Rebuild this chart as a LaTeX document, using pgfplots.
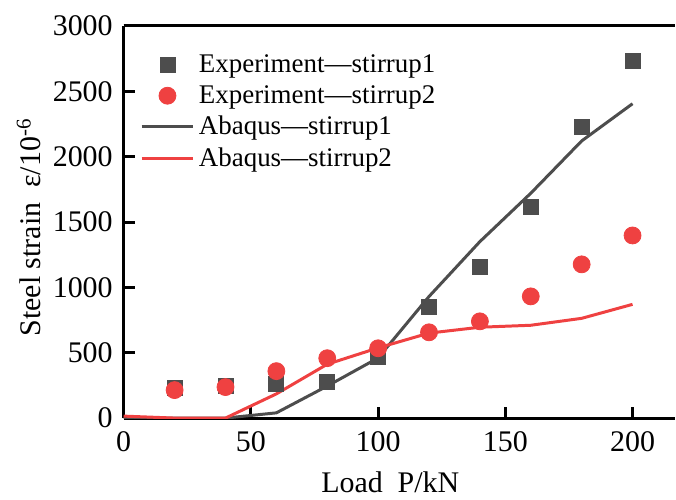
\documentclass[border=0pt]{standalone}
\usepackage{fontspec}
\setmainfont{Liberation Serif}
\usepackage{pgfplots}
\pgfplotsset{compat=1.18}
\definecolor{darkg}{HTML}{4D4D4D}
\definecolor{redc}{HTML}{EF4141}
\pgfplotsset{
  markleg/.style={legend image code/.code={\draw[mark repeat=2,mark phase=2,##1] plot coordinates {(0pt,0pt)(13pt,0pt)(26pt,0pt)};}},
  lineleg/.style={legend image code/.code={\draw[##1] (0pt,0pt) -- (26pt,0pt);}},
}

\begin{document}
\begin{tikzpicture}
\begin{axis}[
  name=ax,
  scale only axis,
  width=276pt, height=196.5pt,
  xmin=0, xmax=216.5,
  ymin=0, ymax=3000,
  axis x line*=bottom,
  axis y line*=left,
  axis line style={line width=1.5pt},
  tick align=inside,
  major tick length=5.5pt,
  tick style={line width=1.5pt, black},
  xtick={0,50,100,150,200},
  ytick={0,500,1000,1500,2000,2500,3000},
  minor tick num=0,
  /pgf/number format/assume math mode=true,
  /pgf/number format/1000 sep={},
  tick label style={font=\fontsize{15}{18}\selectfont},
  xticklabel style={yshift=-3pt},
  yticklabel style={xshift=-2pt},
  label style={font=\fontsize{15}{18}\selectfont},
  xlabel={Load\ \ P/kN},
  ylabel={Steel strain\ \ ε/10\textsuperscript{-6}},
  xlabel style={at={(axis description cs:0.484,0)}, anchor=base, yshift=-37.5pt},
  ylabel style={at={(axis description cs:-0.172,0.486)}, anchor=center},
  legend style={draw=none, fill=none, at={(axis description cs:0.018,0.946)}, anchor=north west,
    font=\fontsize{13.5}{16}\selectfont, row sep=2pt, nodes={inner ysep=1.5pt}},
  legend cell align=left,
  after end axis/.code={\draw[line width=1.5pt] (rel axis cs:0,1) -- (rel axis cs:1,1);},
]
\addplot[only marks, mark=square*, mark size=3.75pt, draw=darkg, fill=darkg, markleg]
  coordinates {(20,229)(40,244)(60,262)(80,277)(100,466)(120,847)(140,1160)(160,1618)(180,2229)(200,2733)};
\addplot[only marks, mark=*, mark size=4.25pt, draw=redc, fill=redc, markleg]
  coordinates {(20,214)(40,237)(60,359)(80,458)(100,534)(120,656)(140,740)(160,931)(180,1176)(200,1397)};
\addplot[darkg, line width=1.5pt, mark=none, lineleg]
  coordinates {(0,0)(20,0)(40,0)(60,40)(80,245)(100,460)(120,930)(140,1350)(160,1720)(180,2120)(200,2405)};
\addplot[redc, line width=1.5pt, mark=none, lineleg]
  coordinates {(0,15)(20,0)(40,0)(60,185)(80,412)(100,537)(120,650)(140,695)(160,710)(180,763)(200,870)};
\legend{Experiment---stirrup1, Experiment---stirrup2, Abaqus---stirrup1, Abaqus---stirrup2}
\end{axis}
\path ([xshift=-62pt,yshift=-39.5pt]ax.south west) rectangle ([yshift=13pt]ax.north east);
\end{tikzpicture}
\end{document}
